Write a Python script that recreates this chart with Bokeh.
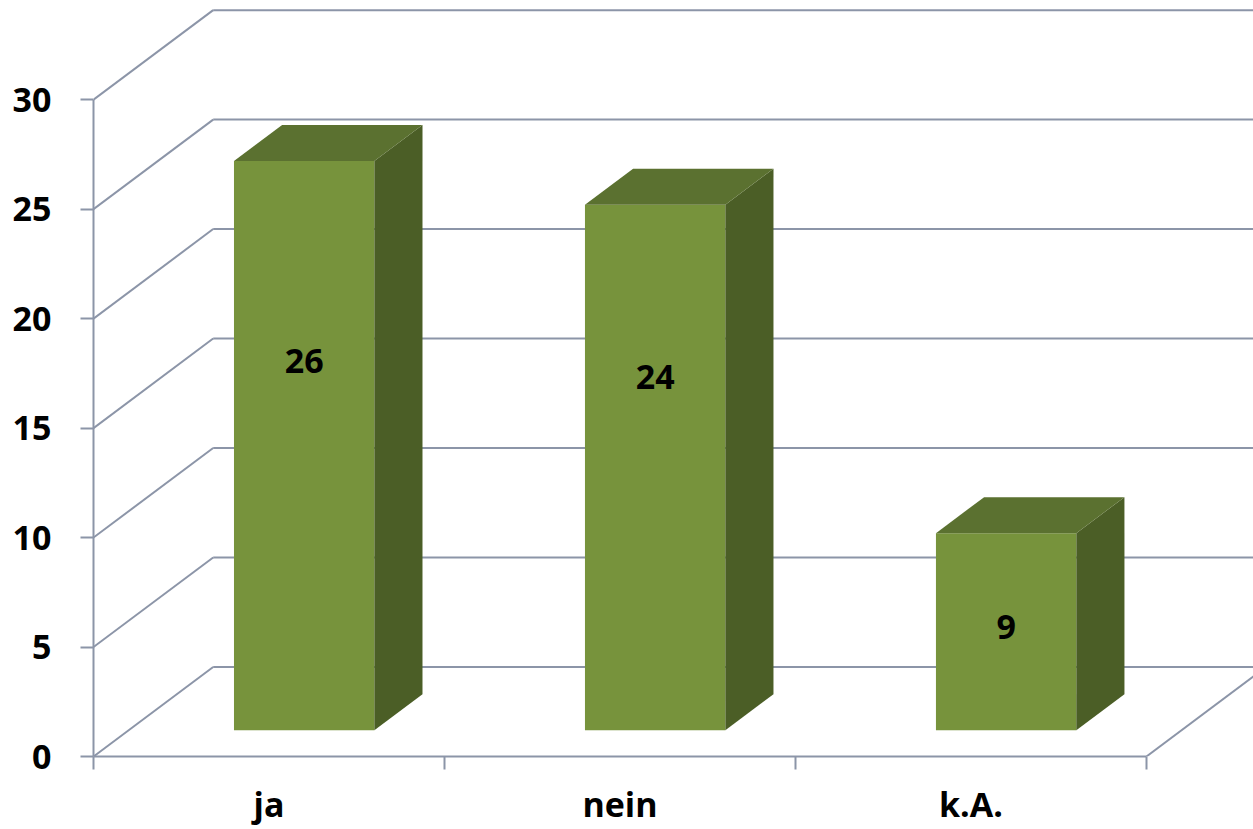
from bokeh.plotting import figure
from bokeh.models import FixedTicker, LinearAxis, Range1d
from bokeh.core.properties import value
from bokeh.embed import file_html
from bokeh.resources import INLINE

# ---- data ----
categories = ["ja", "nein", "k.A."]
counts = [26, 24, 9]
y_ticks = [0, 5, 10, 15, 20, 25, 30]

# ---- style / geometry ----
DX = 0.341        # depth shift (category units)
DY = 4.09         # depth shift (value units)
F0, F1 = 0.294, 0.696   # bar front / back depth fractions
BW = 0.4          # bar width (category units)
label_frac = [0.649, 0.672, 0.522]   # where Excel put the value labels
GRID = "#8C95A8"
FRONT = "#77933C"
TOP = "#5B7130"
SIDE = "#4B5E26"
FONT = "Open Sans"
FSIZE = "34px"

p = figure(width=1253, height=829,
           x_range=Range1d(0, 3.305), y_range=Range1d(0, 34.53),
           x_axis_type=None, y_axis_type=None,
           output_backend="svg", toolbar_location=None,
           min_border_left=93, min_border_right=0,
           min_border_top=0, min_border_bottom=72)
p.outline_line_color = None
p.background_fill_color = "white"
p.border_fill_color = "white"
p.xgrid.visible = False
p.ygrid.visible = False

n = len(categories)
x_end = p.x_range.end

# side wall diagonals
p.segment(x0=[0] * len(y_ticks), y0=y_ticks,
          x1=[DX] * len(y_ticks), y1=[t + DY for t in y_ticks],
          line_color=GRID, line_width=2)
# back wall gridlines
p.segment(x0=[DX] * len(y_ticks), y0=[t + DY for t in y_ticks],
          x1=[x_end] * len(y_ticks), y1=[t + DY for t in y_ticks],
          line_color=GRID, line_width=2)
# floor right edge
p.segment(x0=[n], y0=[0], x1=[n + DX], y1=[DY], line_color=GRID, line_width=2)

# bars
xs, ys, cols = [], [], []
for i, v in enumerate(counts):
    l = i + 0.5 - BW / 2
    r = i + 0.5 + BW / 2
    # front
    xs.append([l + F0 * DX, r + F0 * DX, r + F0 * DX, l + F0 * DX])
    ys.append([F0 * DY, F0 * DY, v + F0 * DY, v + F0 * DY])
    cols.append(FRONT)
    # side
    xs.append([r + F0 * DX, r + F1 * DX, r + F1 * DX, r + F0 * DX])
    ys.append([F0 * DY, F1 * DY, v + F1 * DY, v + F0 * DY])
    cols.append(SIDE)
    # top
    xs.append([l + F0 * DX, r + F0 * DX, r + F1 * DX, l + F1 * DX])
    ys.append([v + F0 * DY, v + F0 * DY, v + F1 * DY, v + F1 * DY])
    cols.append(TOP)
p.patches(xs=xs, ys=ys, fill_color=cols, line_color=None)

# value labels
p.text(x=[i + 0.5 + F0 * DX for i in range(n)],
       y=[F0 * DY + f * v for f, v in zip(label_frac, counts)],
       text=[str(v) for v in counts],
       text_font=value(FONT), text_font_style="bold", text_font_size=FSIZE,
       text_color="black", text_align="center", text_baseline="middle")

# axes
yaxis = LinearAxis(ticker=FixedTicker(ticks=y_ticks), bounds=(0, 30))
yaxis.axis_line_color = GRID
yaxis.axis_line_width = 2
yaxis.major_tick_line_color = GRID
yaxis.major_tick_line_width = 2
yaxis.major_tick_in = 0
yaxis.major_tick_out = 13
yaxis.minor_tick_line_color = None
yaxis.major_label_standoff = 29
yaxis.major_label_text_font = FONT
yaxis.major_label_text_font_style = "bold"
yaxis.major_label_text_font_size = FSIZE
yaxis.major_label_text_color = "black"
p.add_layout(yaxis, "left")

centers = [i + 0.5 for i in range(n)]
xaxis = LinearAxis(ticker=FixedTicker(ticks=centers, minor_ticks=list(range(n + 1))),
                   bounds=(0, n))
xaxis.major_label_overrides = {c: lab for c, lab in zip(centers, categories)}
xaxis.axis_line_color = GRID
xaxis.axis_line_width = 2
xaxis.major_tick_line_color = None
xaxis.major_tick_in = 0
xaxis.major_tick_out = 13
xaxis.minor_tick_line_color = GRID
xaxis.minor_tick_line_width = 2
xaxis.minor_tick_in = 0
xaxis.minor_tick_out = 13
xaxis.major_label_standoff = 11
xaxis.major_label_text_font = FONT
xaxis.major_label_text_font_style = "bold"
xaxis.major_label_text_font_size = FSIZE
xaxis.major_label_text_color = "black"
p.add_layout(xaxis, "below")

open("out.html", "w").write(file_html(p, INLINE))
